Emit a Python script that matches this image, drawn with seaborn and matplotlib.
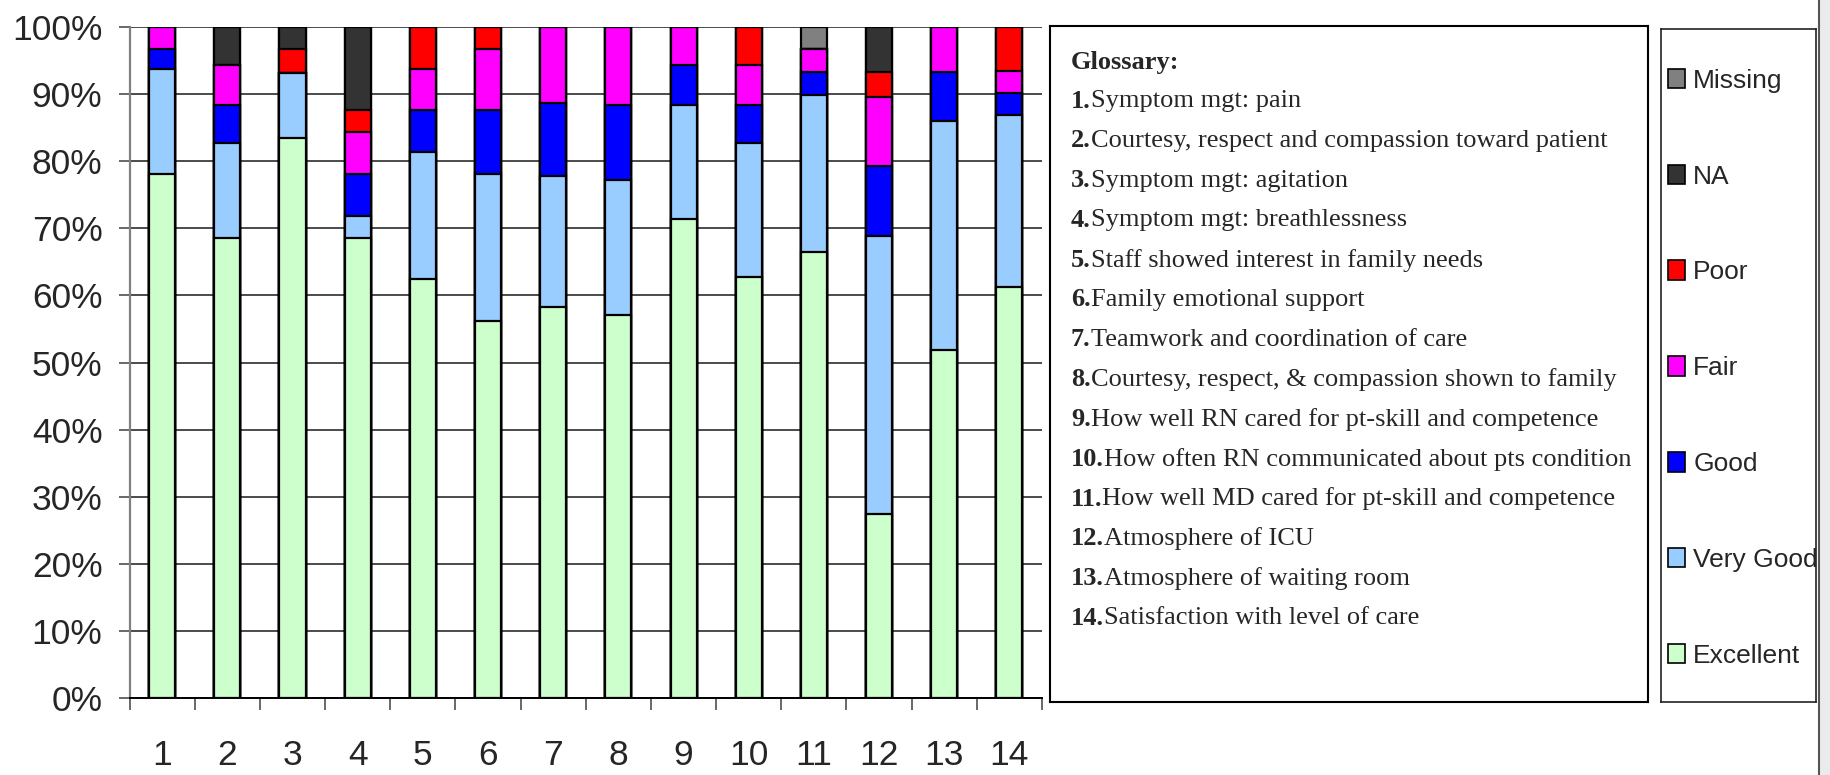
import numpy as np
import pandas as pd
import matplotlib
matplotlib.use("Agg")
import matplotlib.pyplot as plt
from matplotlib.patches import Patch, Rectangle
from matplotlib.lines import Line2D
import seaborn as sns

# ---------------- data ----------------
items = [str(i) for i in range(1, 15)]
excellent = [78.1, 68.6, 83.4, 68.6, 62.4, 56.2, 58.3, 57.1, 71.3, 62.7, 66.5, 27.5, 51.8, 61.2]
very_good = [15.6, 14.1, 9.7, 3.2, 18.9, 21.9, 19.5, 20.1, 17.0, 20.0, 23.3, 41.4, 34.2, 25.7]
good      = [3.0, 5.7, 0.0, 6.3, 6.3, 9.5, 10.9, 11.2, 6.0, 5.7, 3.4, 10.4, 7.2, 3.2]
fair      = [3.3, 5.9, 0.0, 6.2, 6.1, 9.1, 11.3, 11.6, 5.7, 5.9, 3.5, 10.3, 6.8, 3.3]
poor      = [0.0, 0.0, 3.6, 3.3, 6.3, 3.3, 0.0, 0.0, 0.0, 5.7, 0.0, 3.6, 0.0, 6.6]
na        = [0.0, 5.7, 3.3, 12.4, 0.0, 0.0, 0.0, 0.0, 0.0, 0.0, 0.0, 6.8, 0.0, 0.0]
missing   = [0.0, 0.0, 0.0, 0.0, 0.0, 0.0, 0.0, 0.0, 0.0, 0.0, 3.3, 0.0, 0.0, 0.0]

series_names = ["Excellent", "Very Good", "Good", "Fair", "Poor", "NA", "Missing"]
series_colors = ["#CCFFCC", "#99CCFF", "#0000FF", "#FF00FF", "#FF0000", "#333333", "#808080"]

glossary = [
    "Symptom mgt: pain",
    "Courtesy, respect and compassion toward patient",
    "Symptom mgt: agitation",
    "Symptom mgt: breathlessness",
    "Staff showed interest in family needs",
    "Family emotional support",
    "Teamwork and coordination of care",
    "Courtesy, respect, & compassion shown to family",
    "How well RN cared for pt-skill and competence",
    "How often RN communicated about pts condition",
    "How well MD cared for pt-skill and competence",
    "Atmosphere of ICU",
    "Atmosphere of waiting room",
    "Satisfaction with level of care",
]
y_ticks = list(range(0, 101, 10))
y_labels = [f"{v}%" for v in y_ticks]

# ---------------- style ----------------
sns.set_style("white")
plt.rcParams["font.family"] = ["Liberation Sans", "DejaVu Sans"]

W, H = 1830, 775
fig = plt.figure(figsize=(W / 100, H / 100), dpi=100)


def fx(px):
    return px / W


def fy(py):
    return 1 - py / H


ax = fig.add_axes([fx(129.6), fy(698.3), fx(1042) - fx(129.6), fy(26.7) - fy(698.3)])

df = pd.DataFrame({"item": items})
layers = [excellent, very_good, good, fair, poor, na, missing]
cum = np.cumsum(np.array(layers, dtype=float), axis=0)

# draw cumulative bars from the top layer downwards
for i in range(len(layers) - 1, -1, -1):
    df["val"] = cum[i]
    sns.barplot(data=df, x="item", y="val", order=items, color=series_colors[i],
                saturation=1, width=0.4, edgecolor="black", linewidth=1.6,
                errorbar=None, ax=ax, zorder=3)

ax.set_xlim(-0.5, len(items) - 0.5)
ax.set_ylim(0, 100)
ax.set_yticks(y_ticks)
ax.set_yticklabels(y_labels)
ax.set_xlabel("")
ax.set_ylabel("")
ax.yaxis.grid(True, color="#1a1a1a", linewidth=1.1, zorder=0)
ax.set_axisbelow(True)

ax.tick_params(axis="y", which="major", length=7.6, width=1.1, color="#404040",
               pad=12, labelsize=25.5, left=True)
ax.set_xticks(np.arange(len(items)))
ax.set_xticks(np.arange(len(items) + 1) - 0.5, minor=True)
ax.tick_params(axis="x", which="major", length=0, pad=29, labelsize=25.5)
ax.tick_params(axis="x", which="minor", length=8.6, width=1.1, color="#404040", bottom=True)

for s in ["top", "right"]:
    ax.spines[s].set_visible(False)
ax.spines["left"].set_color("#808080")
ax.spines["left"].set_linewidth(1.6)
ax.spines["bottom"].set_color("black")
ax.spines["bottom"].set_linewidth(1.4)

# ---------------- glossary box ----------------
gax = fig.add_axes([fx(1050), fy(702), fx(1648) - fx(1050), fy(25.7) - fy(702)])
gax.set_xticks([])
gax.set_yticks([])
for s in gax.spines.values():
    s.set_color("black")
    s.set_linewidth(1.5)
    s.set_visible(True)

serif = ["Liberation Serif", "DejaVu Serif"]
gsize = 19
fig.text(fx(1071), fy(63), "Glossary:", family=serif, fontsize=gsize,
         fontweight="bold", va="center", ha="left")

fig.canvas.draw()
renderer = fig.canvas.get_renderer()
y0, step = 101.0, 39.8
for k, txt in enumerate(glossary):
    yy = fy(y0 + k * step)
    t1 = fig.text(fx(1071), yy, f"{k + 1}.", family=serif, fontsize=gsize,
                  fontweight="bold", va="center", ha="left")
    bb = t1.get_window_extent(renderer=renderer)
    fig.text(bb.x1 / W, yy, txt, family=serif, fontsize=gsize,
             va="center", ha="left")

# ---------------- legend box ----------------
lax = fig.add_axes([fx(1661), fy(702), fx(1815.7) - fx(1661), fy(29) - fy(702)])
lax.set_xticks([])
lax.set_yticks([])
for s in lax.spines.values():
    s.set_color("#222222")
    s.set_linewidth(1.2)
    s.set_visible(True)

handles = [Patch(facecolor=c, edgecolor="black", linewidth=1.2)
           for c in series_colors[::-1]]
labels = series_names[::-1]
lax.legend(handles, labels, loc="center left", bbox_to_anchor=(0.043, 0.496),
           frameon=False, fontsize=19, labelspacing=2.72, handlelength=0.64,
           handleheight=0.76, handletextpad=0.33, borderpad=0, borderaxespad=0)

# right-hand border strip
fig.patches.append(Rectangle((fx(1819), 0), 1 - fx(1819), 1, transform=fig.transFigure,
                             facecolor="#ebebeb", edgecolor="none", zorder=0))
fig.lines.append(Line2D([fx(1819), fx(1819)], [0, 1], transform=fig.transFigure,
                        color="#555555", linewidth=1.5))

fig.savefig("out.png", dpi=100)
